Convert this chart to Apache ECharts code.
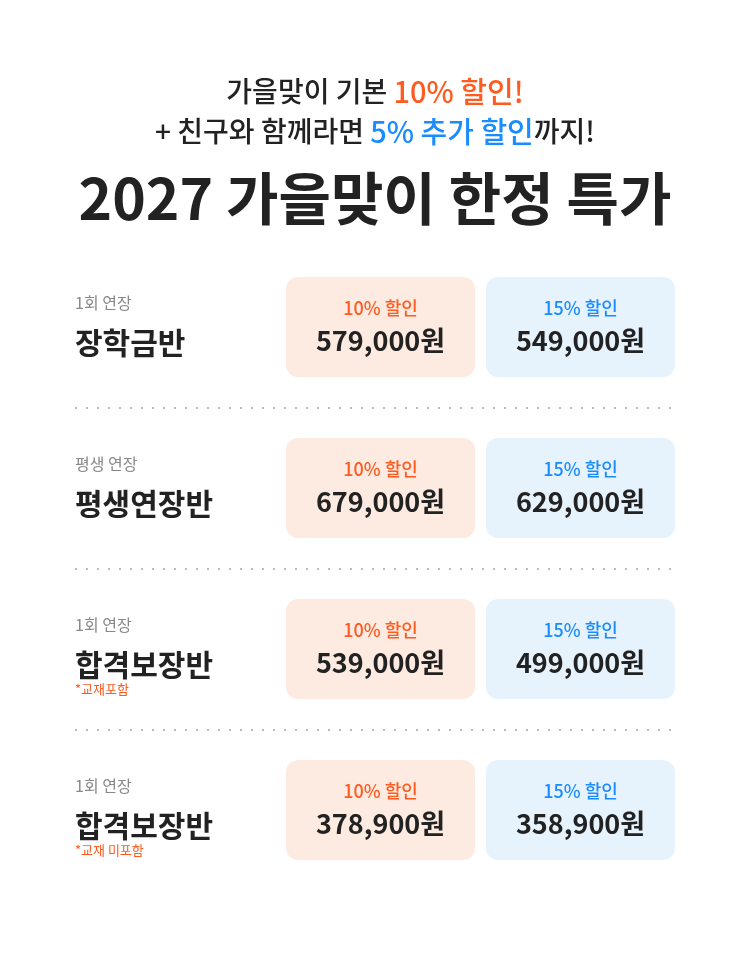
<!DOCTYPE html>
<html><head><meta charset="utf-8">
<script src="https://cdn.jsdelivr.net/npm/echarts@6/dist/echarts.min.js"></script>
<style>html,body{margin:0;padding:0;background:#fff}#main{width:750px;height:958px}</style>
</head><body><div id="main"></div>
<script>
var plans = ['장학금반', '평생연장반', '합격보장반', '합격보장반'];
var periods = ['1회 연장', '평생 연장', '1회 연장', '1회 연장'];
var notes = ['', '', '*교재포함', '*교재 미포함'];
var price10 = ['579,000원', '679,000원', '539,000원', '378,900원'];
var price15 = ['549,000원', '629,000원', '499,000원', '358,900원'];

var FONT = '"Noto Sans CJK KR", "Noto Sans", sans-serif';
var ORANGE = '#ff5a1f', BLUE = '#1a8cff', DARK = '#222';

var myChart = echarts.init(document.getElementById('main'));
var els = [];

// 헤더
els.push({
    type: 'text', left: 'center', top: 77,
    style: {
        text: '{d|가을맞이 기본 }{o|10% 할인!}', font: '500 28px ' + FONT,
        rich: {
            d: { fill: DARK, font: '500 28px ' + FONT },
            o: { fill: ORANGE, font: '500 29px ' + FONT }
        }
    }
});
els.push({
    type: 'text', left: 'center', top: 117,
    style: {
        text: '{d|+ 친구와 함께라면 }{b|5% 추가 할인}{d|까지!}', font: '500 28px ' + FONT,
        rich: {
            d: { fill: DARK, font: '500 28px ' + FONT },
            b: { fill: BLUE, font: '500 29px ' + FONT }
        }
    }
});
els.push({
    type: 'text', left: 'center', top: 170,
    style: { text: '2027 가을맞이 한정 특가', fill: DARK, font: 'bold 57px ' + FONT }
});

plans.forEach(function (name, i) {
    var y = 277 + i * 161;
    els.push({ type: 'text', x: 75, y: y + 26, style: { text: periods[i], fill: '#888', font: '16px ' + FONT, textVerticalAlign: 'middle' } });
    els.push({ type: 'text', x: 75, y: y + 66, style: { text: name, fill: DARK, font: 'bold 30px ' + FONT, textVerticalAlign: 'middle' } });
    if (notes[i]) {
        els.push({ type: 'text', x: 75, y: y + 90, style: { text: notes[i], fill: ORANGE, font: '13px ' + FONT, textVerticalAlign: 'middle' } });
    }
    [[286, '#fdebe1', ORANGE, '10% 할인', price10[i]], [486, '#e6f3fd', BLUE, '15% 할인', price15[i]]].forEach(function (b) {
        els.push({ type: 'rect', shape: { x: b[0], y: y, width: 189, height: 100, r: 12 }, style: { fill: b[1] } });
        els.push({ type: 'text', x: b[0] + 94.5, y: y + 31, style: { text: b[3], fill: b[2], font: '500 18px ' + FONT, textAlign: 'center', textVerticalAlign: 'middle' } });
        els.push({ type: 'text', x: b[0] + 94.5, y: y + 64, style: { text: b[4], fill: DARK, font: '600 27px ' + FONT, textAlign: 'center', textVerticalAlign: 'middle' } });
    });
    if (i < plans.length - 1) {
        els.push({ type: 'line', shape: { x1: 75, y1: y + 131, x2: 675, y2: y + 131 }, style: { stroke: '#bbb', lineWidth: 2, lineDash: [2, 9] } });
    }
});

myChart.setOption({ backgroundColor: '#fff', graphic: { elements: els } });
</script>
</body></html>
